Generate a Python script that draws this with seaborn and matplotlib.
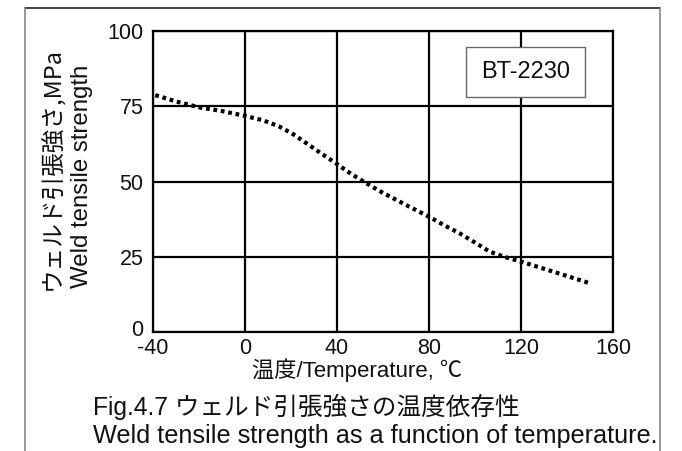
import matplotlib
matplotlib.use("Agg")
import matplotlib.pyplot as plt
import matplotlib.transforms as mtransforms
import seaborn as sns
import pandas as pd
from matplotlib.patches import Rectangle
from matplotlib.lines import Line2D

# Data
temperature = [-39, -30, -19.7, -10, 0, 8, 15.1, 21, 26.7, 33, 40, 46, 52.8, 60, 70, 80, 87, 93.3, 100, 106.4, 113, 120, 130, 140, 149.9]
strength = [78.7, 76.6, 74.6, 73.4, 71.8, 70.3, 68.2, 65.7, 62.7, 59.4, 55.8, 52.6, 49.4, 46.2, 42.2, 38.3, 35.3, 32.8, 29.7, 26.7, 24.9, 23.4, 21.0, 18.6, 16.2]
x_ticks = [-40, 0, 40, 80, 120, 160]
y_ticks = [0, 25, 50, 75, 100]
material = "BT-2230"

sns.set_theme(style="white")
plt.rcParams['font.family'] = ['Liberation Sans', 'Noto Sans CJK JP', 'DejaVu Sans']
plt.rcParams['axes.unicode_minus'] = False

W, H = 682, 451
fig = plt.figure(figsize=(W / 100, H / 100), dpi=100)
ax = fig.add_axes([153 / W, 1 - 332 / H, 460 / W, 301 / H])

df = pd.DataFrame({"T": temperature, "S": strength})
sns.lineplot(data=df, x="T", y="S", ax=ax, color="black", linewidth=3.0,
             linestyle=(0, (0.9, 0.9)), sort=False)

ax.set_xlim(-40, 160)
ax.set_ylim(0, 100)
ax.set_xticks(x_ticks)
ax.set_yticks(y_ticks)
ax.set_xticklabels([str(v) for v in x_ticks])
ax.set_yticklabels([str(v) for v in y_ticks])
ax.grid(True, color="black", linewidth=1.6)
for s in ax.spines.values():
    s.set_color("black")
    s.set_linewidth(1.6)
ax.tick_params(axis="both", length=0, labelsize=15.5, colors="#111111")
ax.tick_params(axis="y", pad=7)
ax.tick_params(axis="x", pad=4.5)
ax.set_xlabel("")
ax.set_ylabel("")

# nudge the "0" y tick label up a little, as in the reference
lbl0 = ax.get_yticklabels()[0]
lbl0.set_transform(lbl0.get_transform() + mtransforms.ScaledTranslation(0, 4 / 100, fig.dpi_scale_trans))

# Label box
ax.add_patch(Rectangle(((466 - 153) / 460, (332 - 97) / 301), 119 / 460, 50 / 301,
                       transform=ax.transAxes, facecolor="white", edgecolor="#666666",
                       linewidth=1.0, zorder=5))
ax.text((525.5 - 153) / 460, (332 - 78.3) / 301, material, transform=ax.transAxes,
        ha="center", va="baseline", fontsize=17, color="#111111", zorder=6)

# Axis labels
fig.text(52 / W, 1 - 290 / H, "ウェルド引張強さ,MPa", rotation=90, ha="center", va="bottom",
         fontsize=17, color="#111111", family=['Noto Sans CJK JP', 'Liberation Sans'])
fig.text(82 / W, 1 - 288 / H, "Weld tensile strength", rotation=90, ha="center", va="bottom",
         fontsize=17.3, color="#111111")
fig.text(357 / W, 1 - 370 / H, "温度/Temperature, ℃", ha="center", va="center",
         fontsize=16, color="#111111", family=['Liberation Sans', 'Noto Sans CJK JP'])

# Caption
fig.text(93 / W, 1 - 415 / H, "Fig.4.7 ウェルド引張強さの温度依存性", ha="left", va="baseline",
         fontsize=17.7, color="#111111", family=['Liberation Sans', 'Noto Sans CJK JP'])
fig.text(93 / W, 1 - 443 / H, "Weld tensile strength as a function of temperature.",
         ha="left", va="baseline", fontsize=18.2, color="#111111")

# Page frame
fig.add_artist(Line2D([25 / W, 660 / W], [1 - 8 / H, 1 - 8 / H], transform=fig.transFigure,
                      color="#222222", linewidth=1.2))
fig.add_artist(Line2D([25 / W, 25 / W], [0, 1 - 8 / H], transform=fig.transFigure,
                      color="#888888", linewidth=1.2))
fig.add_artist(Line2D([660 / W, 660 / W], [0, 1 - 8 / H], transform=fig.transFigure,
                      color="#888888", linewidth=1.2))

fig.savefig("out.png", dpi=100)
